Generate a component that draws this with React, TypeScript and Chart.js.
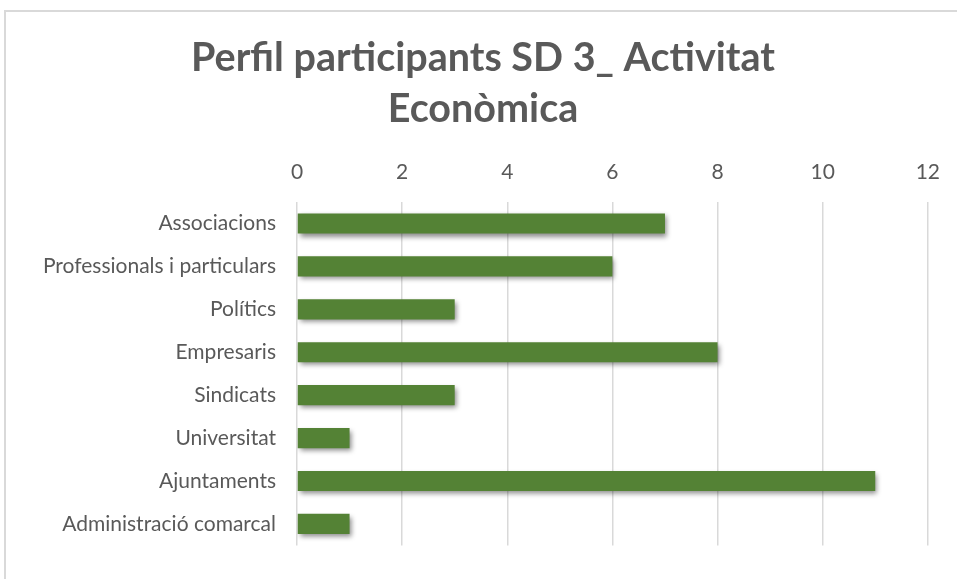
import React, { useEffect, useRef } from "react";
import { Chart, registerables } from "chart.js";

Chart.register(...registerables);

const categories = [
  "Associacions",
  "Professionals i particulars",
  "Polítics",
  "Empresaris",
  "Sindicats",
  "Universitat",
  "Ajuntaments",
  "Administració comarcal",
];
const values = [7, 6, 3, 8, 3, 1, 11, 1];
const titleLines = ["Perfil participants SD 3_ Activitat", "Econòmica"];
const xMin = 0;
const xMax = 12;
const xStep = 2;

const FONT = "Lato, 'Open Sans', sans-serif";
const TITLE_SIZE = 39.5;
const TITLE_LH = 51 / 39.5;
const TITLE_PAD_TOP = 33;
const PAD_LEFT = 38;

const shadowPlugin = {
  id: "barShadow",
  beforeDatasetsDraw(chart: any) {
    const ctx = chart.ctx;
    ctx.save();
    ctx.shadowColor = "rgba(0,0,0,0.45)";
    ctx.shadowBlur = 5;
    ctx.shadowOffsetX = 2;
    ctx.shadowOffsetY = 3;
  },
  afterDatasetsDraw(chart: any) {
    chart.ctx.restore();
  },
};

export default function App() {
  const ref = useRef<HTMLCanvasElement | null>(null);
  useEffect(() => {
    if (!ref.current) return;
    const chart = new Chart(ref.current, {
      type: "bar",
      data: {
        labels: categories,
        datasets: [
          {
            data: values,
            backgroundColor: "#548235",
            borderWidth: 0,
            barPercentage: 1,
            categoryPercentage: 0.47,
          },
        ],
      },
      plugins: [shadowPlugin],
      options: {
        indexAxis: "y",
        animation: false,
        responsive: false,
        maintainAspectRatio: false,
        layout: { padding: { left: PAD_LEFT, right: 29, top: 0, bottom: 21 } },
        plugins: {
          legend: { display: false },
          tooltip: { enabled: false },
          title: {
            display: true,
            text: titleLines,
            color: "#595959",
            font: { family: FONT, size: TITLE_SIZE, weight: "bold", lineHeight: TITLE_LH },
            padding: { top: TITLE_PAD_TOP, bottom: 0 },
          },
        },
        scales: {
          x: {
            position: "top",
            min: xMin,
            max: xMax,
            ticks: {
              stepSize: xStep,
              color: "#595959",
              font: { family: FONT, size: 21 },
              padding: 17,
            },
            grid: { color: "#d9d9d9", lineWidth: 1.5, drawTicks: false },
            border: { display: false },
            afterFit: (s: any) => {
              s.height = 202 - TITLE_PAD_TOP - TITLE_SIZE * TITLE_LH * 2;
            },
          },
          y: {
            ticks: {
              color: "#595959",
              font: { family: FONT, size: 21 },
              padding: 21,
            },
            grid: { display: false, drawTicks: false },
            border: { display: false },
            afterFit: (s: any) => {
              s.width = 297 - PAD_LEFT;
            },
          },
        },
      },
    });
    return () => chart.destroy();
  }, []);
  return (
    <div style={{ position: "fixed", left: 0, top: 0, width: 957, height: 579, background: "#fff", overflow: "hidden" }}>
      <div
        style={{
          position: "absolute",
          left: 4,
          top: 10,
          width: 1000,
          height: 1000,
          border: "2px solid #d9d9d9",
          boxSizing: "border-box",
        }}
      />
      <canvas ref={ref} width={957} height={579} style={{ position: "absolute", left: 0, top: 0 }} />
    </div>
  );
}
